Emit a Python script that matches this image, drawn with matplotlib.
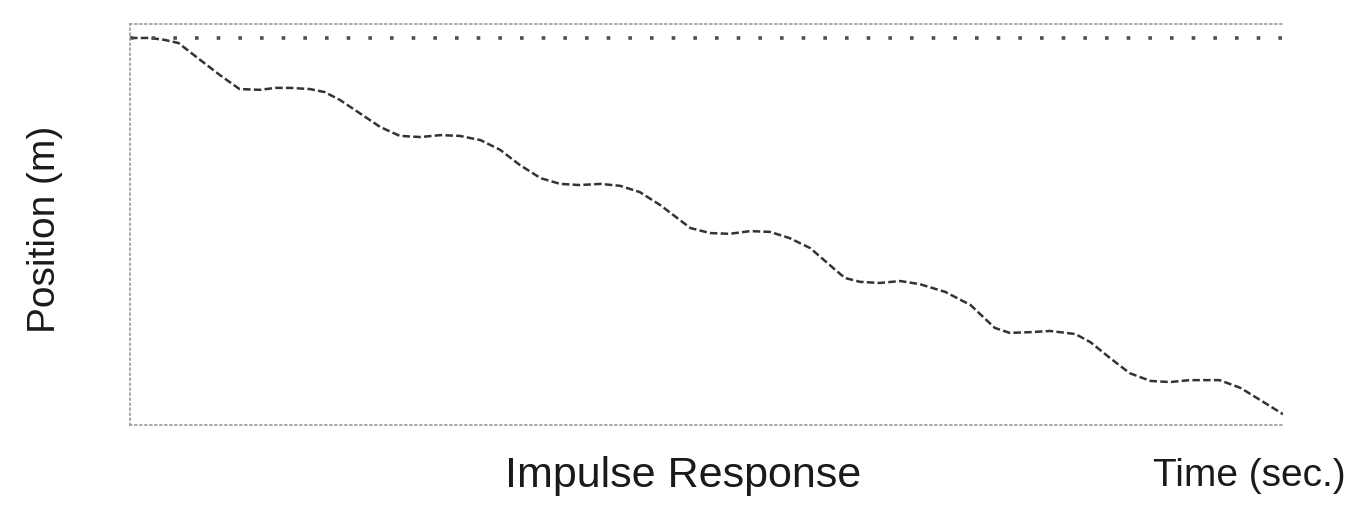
import matplotlib
matplotlib.use("Agg")
import matplotlib.pyplot as plt

# impulse response (time in s, position in m)
time_s = [0.00, 0.17, 0.30, 0.42, 0.61, 0.78, 0.95, 1.13, 1.26, 1.39, 1.56, 1.69,
          1.82, 1.99, 2.17, 2.34, 2.52, 2.69, 2.86, 3.04, 3.21, 3.38, 3.56, 3.73,
          3.90, 4.08, 4.25, 4.42, 4.60, 4.86, 5.03, 5.20, 5.38, 5.55, 5.72, 5.90,
          6.07, 6.20, 6.33, 6.50, 6.68, 6.85, 7.07, 7.29, 7.50, 7.63, 7.81, 7.98,
          8.20, 8.33, 8.50, 8.67, 8.85, 9.02, 9.19, 9.45, 9.63, 9.80, 10.00]
position_m = [0.00, 0.00, -0.05, -0.13, -0.57, -0.96, -1.32, -1.34, -1.29, -1.29, -1.32, -1.40,
              -1.60, -1.94, -2.30, -2.53, -2.56, -2.51, -2.53, -2.64, -2.89, -3.28, -3.62, -3.77,
              -3.80, -3.77, -3.82, -3.98, -4.32, -4.91, -5.04, -5.06, -4.99, -5.01, -5.17, -5.43,
              -5.87, -6.20, -6.30, -6.33, -6.28, -6.36, -6.56, -6.90, -7.49, -7.62, -7.60, -7.57,
              -7.65, -7.86, -8.27, -8.66, -8.86, -8.89, -8.84, -8.84, -9.04, -9.35, -9.72]

plt.rcParams['font.family'] = ['Liberation Sans', 'DejaVu Sans']

fig = plt.figure(figsize=(13.5, 5.28), dpi=100)
ax = fig.add_axes([0.0963, 0.195, 0.8541, 0.7595])

ax.plot(time_s, position_m, color='#333333', lw=1.8, linestyle=(0, (3, 1.3)))
ax.axhline(0, color='#4d4d4d', lw=2.6, linestyle=(0, (1, 5)))

ax.set_xlim(0, 10)
ax.set_ylim(-10, 0.36)
ax.set_xticks([])
ax.set_yticks([])

for side in ['left', 'bottom', 'top']:
    ax.spines[side].set_linestyle((0, (1, 2)))
    ax.spines[side].set_color('#999999')
    ax.spines[side].set_linewidth(1.2)
ax.spines['right'].set_visible(False)

fig.text(0.033, 0.566, 'Position (m)', rotation=90, ha='center', va='center',
         fontsize=28, color='#1a1a1a')
fig.text(0.506, 0.098, 'Impulse Response', ha='center', va='center',
         fontsize=31, color='#1a1a1a')
fig.text(0.997, 0.098, 'Time (sec.)', ha='right', va='center',
         fontsize=28, color='#1a1a1a')

fig.savefig('out.png', dpi=100)
